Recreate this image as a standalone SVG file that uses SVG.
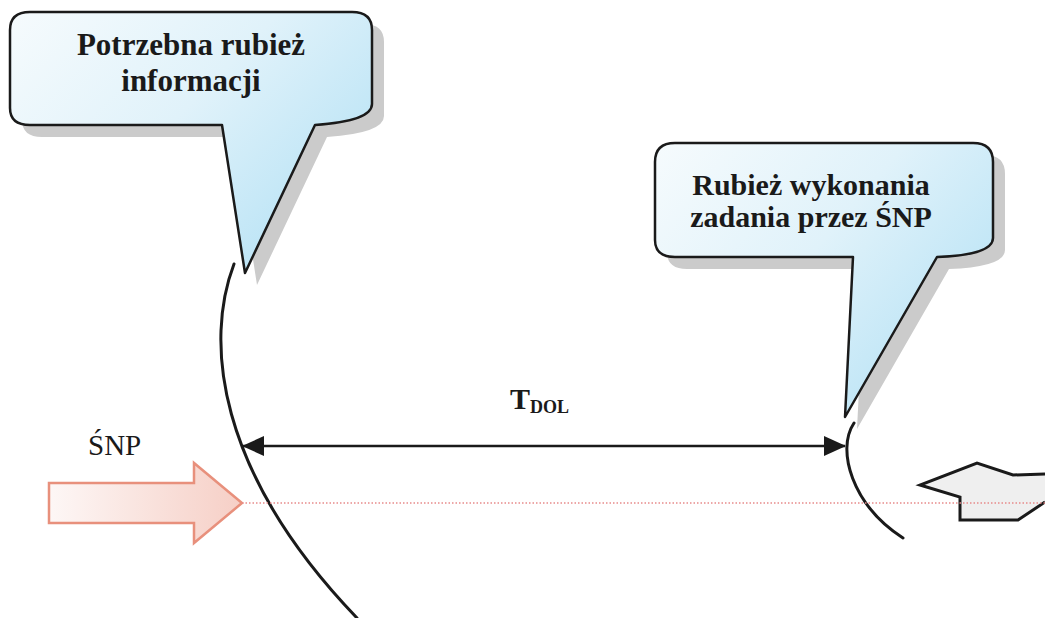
<svg xmlns="http://www.w3.org/2000/svg" width="1045" height="618" viewBox="0 0 1045 618">
  <style>
    .bubble { stroke: #1a1a1a; stroke-width: 2.5; stroke-linejoin: round; }
    .shadow { fill: #cbcbcb; stroke: none; }
    .btxt { font-family: "Liberation Serif", "Times New Roman", serif; font-weight: bold; fill: #1a1a1a; text-anchor: middle; }
    .curve { fill: none; stroke: #1a1a1a; stroke-width: 3; stroke-linecap: round; }
    .dim { stroke: #1a1a1a; stroke-width: 2.5; fill: none; }
    .lbl { font-family: "Liberation Serif", "Times New Roman", serif; fill: #1a1a1a; }
  </style>
  <defs>
    <linearGradient id="blue" x1="0" y1="0" x2="1" y2="0.7">
      <stop offset="0" stop-color="#f6fbfd"/>
      <stop offset="0.5" stop-color="#e0f2fa"/>
      <stop offset="1" stop-color="#b6e2f5"/>
    </linearGradient>
    <linearGradient id="pink" x1="0" y1="0" x2="1" y2="0">
      <stop offset="0" stop-color="#fdf7f6"/>
      <stop offset="1" stop-color="#f6cfc6"/>
    </linearGradient>
    <marker id="ah" viewBox="0 0 22 20" refX="21" refY="10" markerWidth="22" markerHeight="20" markerUnits="userSpaceOnUse" orient="auto-start-reverse">
      <path d="M0,0 L22,10 L0,20 Z" fill="#1a1a1a"/>
    </marker>
  </defs>
  <rect width="1045" height="618" fill="#ffffff"/>

  <g id="bubble-info">
    <path class="shadow" transform="translate(12,12)" d="M30,12 L352,12 Q372,12 372,30 L372,104 Q372,121 315,125 L245,273 L222,125 L30,125 Q10,125 10,108 L10,30 Q10,12 30,12 Z"/>
    <path class="bubble" fill="url(#blue)" d="M30,12 L352,12 Q372,12 372,30 L372,104 Q372,121 315,125 L245,273 L222,125 L30,125 Q10,125 10,108 L10,30 Q10,12 30,12 Z"/>
    <text class="btxt" x="191" y="55" font-size="31">Potrzebna rubież</text>
    <text class="btxt" x="191" y="91" font-size="31">informacji</text>
  </g>

  <g id="bubble-task">
    <path class="shadow" transform="translate(12,12)" d="M675,143 L973,143 Q993,143 993,162 L993,238 Q993,255 937,257 L845,417 L853,257 L675,257 Q655,257 655,240 L655,162 Q655,143 675,143 Z"/>
    <path class="bubble" fill="url(#blue)" d="M675,143 L973,143 Q993,143 993,162 L993,238 Q993,255 937,257 L845,417 L853,257 L675,257 Q655,257 655,240 L655,162 Q655,143 675,143 Z"/>
    <text class="btxt" x="811" y="195" font-size="30">Rubież wykonania</text>
    <text class="btxt" x="811" y="227" font-size="30">zadania przez ŚNP</text>
  </g>

  <g id="boundary-info">
    <path class="curve" d="M234,264 C205,340 215,470 357,618"/>
  </g>

  <g id="boundary-task">
    <path class="curve" d="M854,423 C836,450 852,505 903,538"/>
  </g>

  <g id="snp">
    <text class="lbl" x="88" y="455" font-size="29">ŚNP</text>
    <path d="M49,483 L194,483 L194,463 L242,503 L194,543 L194,523 L49,523 Z" fill="url(#pink)" stroke="#e8907c" stroke-width="2.5" stroke-linejoin="miter"/>
  </g>

  <g id="threat">
    <path d="M1045,474 L1013,475 L977,463 L920,485 L960,497 L960,520 L1018,520 L1045,502" fill="#efefef" stroke="#1a1a1a" stroke-width="3" stroke-linejoin="miter"/>
  </g>

  <g id="connectors">
    <line class="dim" x1="243" y1="446" x2="845" y2="446" marker-start="url(#ah)" marker-end="url(#ah)"/>
    <line x1="242" y1="503" x2="1045" y2="503" stroke="#e88a8a" stroke-width="1.3" stroke-dasharray="1.5 2"/>
  </g>

  <g id="tdol-label">
    <text class="lbl" x="510" y="409" font-size="30" font-weight="bold">T<tspan font-size="18" dy="4">DOL</tspan></text>
  </g>
</svg>
